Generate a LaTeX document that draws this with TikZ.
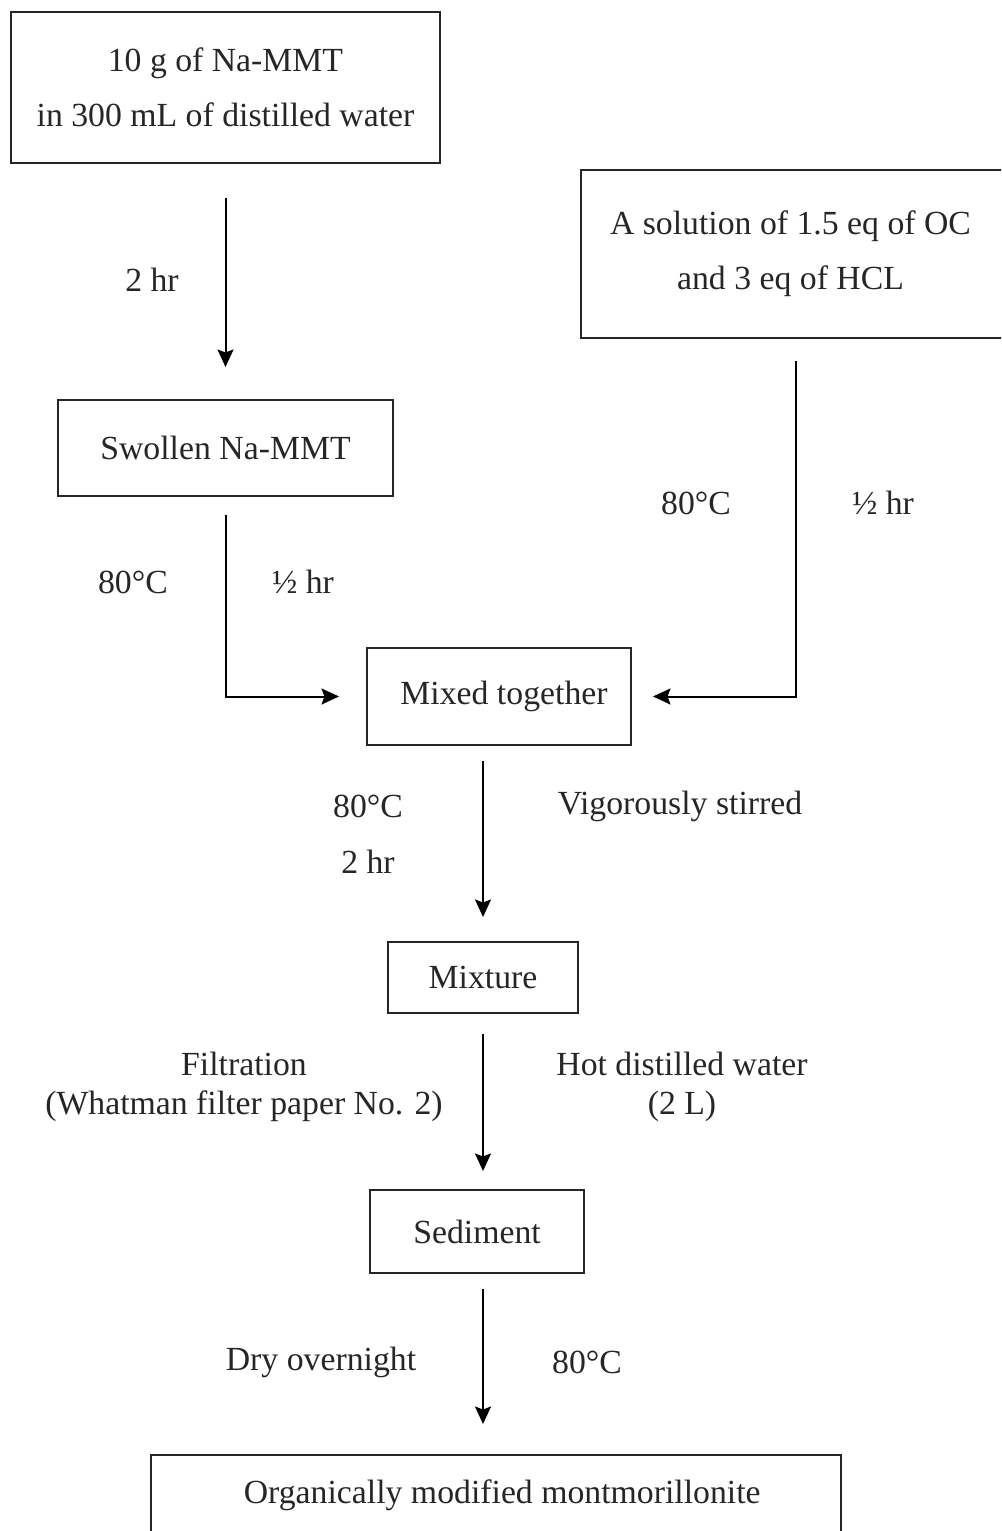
\documentclass[tikz,border=0pt]{standalone}
\usepackage{fontspec}
\setmainfont{Liberation Serif}
\usetikzlibrary{arrows.meta}

\begin{document}
\begin{tikzpicture}[
            x = 0.4pt, y = -0.4pt, % one unit is one pixel of the scan
            > = {Stealth[length=7pt, width=6.4pt, inset=1.2pt]}, % arrow head style
            line width = 0.8pt, % line style
            font = \fontsize{13.5}{22}\selectfont,
            text = black!85
        ]

        \tikzstyle{box}=[
            draw = black!85,
            line width = 0.8pt,
            align = center,
            inner sep = 0pt
        ]
        \tikzstyle{lbl}=[
            align = center,
            inner sep = 0pt
        ]

        \clip (0,0) rectangle (1001,1531);

        % boxes
        \node[box, minimum width=171.6pt, minimum height=60.4pt] (start) at (225.5,87.5) {10 g of Na-MMT\\in 300 mL of distilled water};
        \node[box, minimum width=171.6pt, minimum height=67.2pt] (solution) at (795.5,254) {\hspace*{-4pt}A solution of 1.5 eq of OC\\\hspace*{-4pt}and 3 eq of HCL};
        \node[box, minimum width=134pt, minimum height=38.4pt] (swollen) at (225.5,448) {Swollen Na-MMT};
        \node[box, minimum width=105.6pt, minimum height=38.8pt] (mix) at (499,696.5) {\hspace*{4pt}Mixed together};
        \node[box, minimum width=76pt, minimum height=28.4pt] (mixture) at (483,977.5) {Mixture};
        \node[box, minimum width=85.6pt, minimum height=33.2pt] (sediment) at (477,1231.5) {Sediment};
        \node[box, minimum width=276pt, minimum height=32pt] (final) at (496,1495) {\hspace*{5pt}Organically modified montmorillonite};

        % labels
        \node[lbl] (t1) at (152,280) {2 hr};
        \node[lbl] (t2) at (133,582) {80°C};
        \node[lbl] (h1) at (303,582) {½ hr};
        \node[lbl] (t3) at (696,503) {80°C};
        \node[lbl] (h2) at (883,503) {½ hr};
        \node[lbl] (t4) at (368,806) {80°C};
        \node[lbl] (t5) at (368,862) {2 hr};
        \node[lbl] (stir) at (680,806) {Vigorously stirred};
        \node[lbl, font=\fontsize{13.5}{15.6}\selectfont] (filt) at (244,1087) {Filtration\\(Whatman filter paper No. 2)};
        \node[lbl, font=\fontsize{13.5}{15.6}\selectfont] (hot) at (682,1087) {Hot distilled water\\(2 L)};
        \node[lbl] (dry) at (321,1362) {Dry overnight};
        \node[lbl] (t6) at (587,1362) {80°C};

        % arrows
        \draw[->, shorten <=13.6pt, shorten >=12.8pt] (start) -- (swollen);
        \draw[->, shorten <=7.2pt, shorten >=10.8pt] (swollen) |- (mix);
        \draw[->, shorten <=8.8pt, shorten >=8.4pt] (solution) |- (mix);
        \draw[->, shorten <=6pt, shorten >=9.6pt] (mix.south -| mixture.north) -- (mixture);
        \draw[->, shorten <=8pt, shorten >=7.2pt] (mixture) -- (mixture |- sediment.north);
        \draw[->, shorten <=6pt, shorten >=12pt] (sediment.south -| mixture.north) -- (final.north -| mixture.north);

    \end{tikzpicture}
\end{document}
